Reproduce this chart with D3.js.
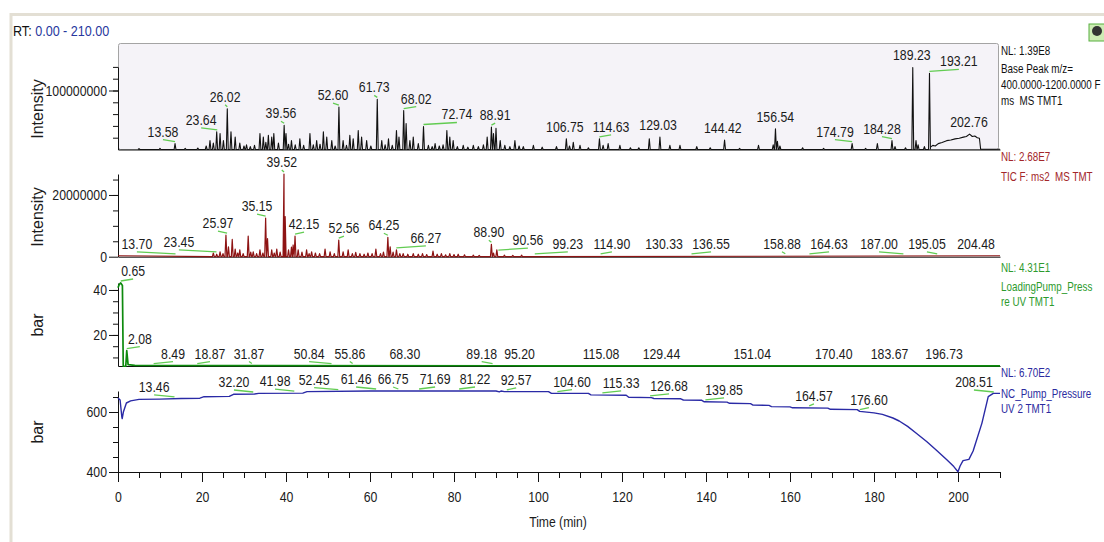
<!DOCTYPE html>
<html>
<head>
<meta charset="utf-8">
<script src="https://cdn.jsdelivr.net/npm/d3@7"></script>
<style>
  body { margin: 0; background: #fff; }
  svg { display: block; font-family: "Liberation Sans", Arial, sans-serif; }
  text { white-space: pre; }
</style>
</head>
<body>
<div id="chart"></div>
<script>
// retention time window (min)
const rtRange = [0, 210];

// base peak trace: [time, intensity x1e6]
const bpPeaks = [
  [5, 1.5], [10, 2], [13.58, 10], [16, 2], [19, 2.5], [21, 6], [21.9, 15], [22.7, 11], [23.5, 30], [24.3, 27],
  [25.1, 15], [26.02, 69], [26.9, 30], [27.9, 21], [29, 11], [30, 6], [30.6, 8], [31.5, 5], [32.5, 7], [33.8, 27],
  [34.6, 21], [35.2, 12], [35.8, 24], [36.6, 21], [37.1, 27], [38.2, 11], [39.56, 41], [40, 27], [40.6, 9], [41.3, 15],
  [42.2, 8], [43.3, 18], [44.2, 7], [45.7, 27], [46.5, 8], [47.3, 15], [48.1, 9], [48.9, 30], [49.7, 21], [50.9, 15],
  [51.7, 6], [52.6, 72], [53.6, 15], [54.4, 7], [55.2, 24], [56, 18], [57.2, 32], [58, 21], [59.2, 15], [60.2, 6],
  [61.73, 85], [62.8, 15], [63.6, 8], [64.4, 18], [65.3, 7], [66.3, 32], [66.9, 21], [68.02, 66], [68.6, 44], [69.5, 15],
  [70.3, 21], [71.5, 10], [72.74, 39], [73.9, 7], [74.8, 5], [75.5, 10], [76.5, 6], [77.4, 8], [78.3, 32], [79, 21],
  [79.8, 15], [80.8, 5], [82.2, 7], [83.3, 4], [84.6, 7], [85.8, 5], [87, 8], [87.9, 21], [88.91, 38], [89.4, 27],
  [90, 36], [91, 15], [92.1, 7], [93.3, 5], [94.5, 15], [95.5, 6], [96.5, 5], [98.9, 7], [101, 4], [104.4, 5],
  [106.75, 18], [107.5, 6], [108.4, 12], [110, 7], [112, 3], [114.63, 18], [115.5, 7], [116.7, 10], [119.5, 7], [122, 3],
  [124, 3], [126.5, 18], [129.03, 21], [131.4, 7], [133.8, 7], [137.8, 5], [141, 3], [144.42, 16], [148, 2], [152.5, 7],
  [156, 8], [156.54, 35], [157, 14], [157.6, 6], [163, 3], [168, 2], [174.79, 10], [178, 2], [180.8, 10], [184.28, 15],
  [185, 5], [187.5, 3], [189.23, 139], [190, 15], [190.5, 8], [192, 5], [193.21, 129]
];
const bpHump = [
  [193.45, 4], [194, 7], [194.6, 6], [195.3, 10], [196.2, 12], [197.3, 15], [198.3, 16], [199.3, 18], [200.3, 19],
  [201.3, 21], [202, 22], [202.76, 26], [203.4, 22], [204, 23], [204.6, 20], [205.1, 19], [205.4, 0.3], [210, 0.3]
];
// [peak time, value x1e6, label centre time]
const bpLabels = [
  [13.58, 10, 10.7], [23.64, 30, 19.8], [26.02, 69, 25.5], [39.56, 41, 38.8], [52.60, 72, 51.2], [61.73, 85, 61.0],
  [68.02, 66, 71.0], [72.74, 39, 80.7], [88.91, 38, 89.8], [106.75, 18, 106.4], [114.63, 18, 117.4], [129.03, 21, 128.6],
  [144.42, 16, 144.0], [156.54, 35, 156.5], [174.79, 10, 170.7], [184.28, 15, 181.9], [189.23, 139, 189.0],
  [193.21, 129, 200.2], [202.76, 26, 202.6]
];

// TIC ms2 trace: [time, intensity x1e6]
const ticPeaks = [
  [22.7, 1.2], [23.5, 0.8], [24.3, 1.6], [25, 1], [25.7, 7], [26.3, 3.2], [27.2, 5.6], [27.9, 2.5], [28.5, 1.2], [29, 2.2],
  [29.8, 1], [31, 6.7], [31.6, 1.5], [32.2, 1.6], [33, 1], [33.8, 2.2], [34.5, 1.2], [35.15, 12.5], [35.6, 5.9], [36.6, 2.2],
  [37.2, 1.2], [37.8, 2.5], [38.6, 1.5], [39.52, 26.8], [39.8, 13], [40.6, 2.2], [41.3, 3.1], [41.7, 3.8], [42.15, 6.7], [42.9, 2.2],
  [43.8, 1.5], [44.9, 2.2], [45.5, 1], [46.1, 1.6], [47, 1.2], [48, 1], [49.3, 2.5], [50.5, 1.6], [51.5, 1], [52.56, 5.4],
  [53.6, 1.6], [54.8, 2.2], [55.8, 1], [56.6, 1.4], [57.6, 1], [58.6, 0.8], [59.5, 1.2], [60.5, 1], [61.4, 2.5], [62.5, 1],
  [63.2, 1.5], [64.25, 6.3], [64.8, 3.2], [65.5, 1.5], [66.3, 2.2], [67.1, 1], [67.9, 1], [69, 0.8], [70.3, 1], [71.5, 0.8],
  [72.5, 1], [73.5, 0.7], [75, 1.8], [76, 0.8], [77, 1], [78, 0.6], [79, 1], [80, 0.7], [81, 0.8], [82.5, 0.6],
  [84.6, 0.5], [86, 0.4], [88.9, 4], [89.4, 1.2], [90.2, 2.2], [92, 0.5], [94, 0.4], [96.1, 0.5]
];
const ticLabels = [
  [13.70, 0.3, 4.5], [23.45, 0.9, 14.5], [25.97, 7, 23.8], [35.15, 12.5, 33.1], [39.52, 26.8, 39.0], [42.15, 6.7, 44.3],
  [52.56, 5.4, 53.8], [64.25, 6.3, 63.3], [66.27, 2.2, 73.3], [88.90, 4, 88.3], [90.56, 1.5, 97.6], [99.23, 0.3, 107.1],
  [114.90, 0.3, 117.6], [130.33, 0.3, 130.0], [136.55, 0.3, 141.2], [158.88, 0.3, 158.1], [164.63, 0.3, 169.3],
  [187.00, 0.3, 181.2], [195.05, 0.3, 192.6], [204.48, 0.3, 204.3]
];

// loading pump pressure: [time, bar]
const lpTrace = [
  [0, 41], [0.3, 42.5], [0.65, 43.1], [1.05, 42], [1.25, 6.1], [1.85, 6.1], [2.08, 13], [2.4, 6.8], [4, 6.5],
  [30, 6.4], [100, 6.3], [210, 6.3]
];
const lpLabels = [
  [0.65, 43.1, 3.6], [2.08, 13, 5.2], [8.49, 6.4, 13.1], [18.87, 6.4, 21.9], [31.87, 6.4, 31.2], [50.84, 6.4, 45.5],
  [55.86, 6.4, 55.2], [68.30, 6.4, 68.3], [89.18, 6.4, 86.6], [95.20, 6.4, 95.6], [115.08, 6.3, 115.0], [129.44, 6.3, 129.4],
  [151.04, 6.3, 151.0], [170.40, 6.3, 170.4], [183.67, 6.3, 183.7], [196.73, 6.3, 196.7]
];

// NC pump pressure: [time, bar]
const ncTrace = [
  [0, 647], [0.5, 640], [0.9, 585], [1.0, 578], [1.3, 601], [2, 630], [3, 637], [5, 642], [10, 643], [15, 645],
  [19.5, 646], [20.5, 651], [26.5, 652], [27.5, 659], [32.5, 660], [33.5, 662], [44, 663], [45, 668], [60, 670], [90, 670],
  [90.8, 667], [91.2, 670], [92, 668], [102.5, 668], [103.2, 662], [112, 662], [112.6, 657], [121, 656], [121.6, 649],
  [127, 648], [127.6, 645], [134, 644], [134.6, 640], [139, 639], [139.6, 634], [145, 633], [145.6, 629], [150.6, 628],
  [151.2, 623], [155, 622], [155.6, 618], [160, 617], [160.6, 614], [169, 613], [169.6, 609], [176, 608], [176.6, 602],
  [180, 597], [182, 592], [184.5, 580], [186, 570], [188, 552], [190, 530], [192.6, 501], [195, 471], [197.4, 440],
  [199, 418], [200, 401], [200.5, 420], [201.2, 438], [202.6, 442], [203.6, 470], [205.7, 563], [207.2, 651],
  [208.4, 662], [210, 662]
];
const ncLabels = [
  [13.46, 644, 8.6], [32.20, 660, 27.6], [41.98, 663, 37.4], [52.45, 668, 46.7], [61.46, 670, 56.7], [66.75, 670, 65.5],
  [71.69, 670, 75.5], [81.22, 670, 85.0], [92.57, 667, 94.8], [104.60, 661, 108.1], [115.33, 657, 119.8],
  [126.68, 647, 131.2], [139.85, 634, 144.3], [164.57, 614, 165.7], [176.60, 601, 178.8], [208.51, 660, 203.8]
];

const sideNotes = [
  ["NL: 1.39E8", "Base Peak m/z=", "400.0000-1200.0000 F", "ms  MS TMT1"],
  ["NL: 2.68E7", "TIC F: ms2  MS TMT"],
  ["NL: 4.31E1", "LoadingPump_Press", "re UV TMT1"],
  ["NL: 6.70E2", "NC_Pump_Pressure", "UV 2 TMT1"]
];
const timeTicks = [0, 20, 40, 60, 80, 100, 120, 140, 160, 180, 200];

const W = 1104, H = 542, left = 118;
const svg = d3.select("#chart").append("svg").attr("width", W).attr("height", H);

const x = d3.scaleLinear().domain(rtRange).range([left, 1000]);

const yBP = d3.scaleLinear().domain([0, 1.4e8]).range([149.5, 66.9]);
const yTIC = d3.scaleLinear().domain([0, 2.68e7]).range([256.7, 174]);
const yLP = d3.scaleLinear().domain([6.2, 43.1]).range([366, 283]);
const yNC = d3.scaleLinear().domain([400, 670]).range([472, 391]);

function label(g, px, py, s, o = {}) {
  return g.append("text")
    .attr("transform", `translate(${px},${py}) scale(${o.sx ?? 0.82},1)`)
    .attr("text-anchor", o.anchor || "middle")
    .attr("font-size", o.size || 15)
    .attr("fill", o.fill || "#1b1b1b")
    .attr("dy", o.dy || 0)
    .text(s);
}

function squeeze(g) {
  g.attr("font-family", null).attr("font-size", 15).attr("color", "#111");
  g.selectAll("text").each(function () {
    const t = d3.select(this);
    const tx = +t.attr("x") || 0, ty = +t.attr("y") || 0;
    t.attr("x", 0).attr("y", 0)
      .attr("transform", `translate(${tx},${ty}) scale(0.82,1)`)
      .attr("fill", "#1b1b1b");
  });
}

// outer frame
svg.append("path").attr("d", `M11,${H}V14.5H${W}`)
  .attr("fill", "none").attr("stroke", "#e3dfd4").attr("stroke-width", 3);
svg.append("rect").attr("x", 1089).attr("y", 24).attr("width", 16).attr("height", 17)
  .attr("fill", "#cdebb4").attr("stroke", "#58b040");
svg.append("circle").attr("cx", 1097).attr("cy", 31).attr("r", 5).attr("fill", "#333");

const rt = svg.append("text").attr("transform", "translate(13,31) scale(0.9,1)")
  .attr("font-size", 14).attr("dy", "0.35em");
rt.append("tspan").attr("fill", "#111").text("RT: ");
rt.append("tspan").attr("fill", "#27379e").text(`${rtRange[0].toFixed(2)} - ${rtRange[1].toFixed(2)}`);

// panel 1 box
svg.append("rect").attr("x", left + 0.5).attr("y", 43.5).attr("width", 880).attr("height", 106)
  .attr("rx", 2).attr("fill", "#f5f3f8").attr("stroke", "#a4a4a4");

function yAxis(y, minor, major, fmt) {
  svg.append("g").attr("transform", `translate(${left},0)`)
    .call(d3.axisLeft(y).tickValues(minor).tickSize(5).tickSizeOuter(0).tickFormat(""))
    .attr("color", "#111");
  const g = svg.append("g").attr("transform", `translate(${left},0)`)
    .call(d3.axisLeft(y).tickValues(major).tickSize(9).tickSizeOuter(0).tickPadding(2).tickFormat(fmt));
  g.select(".domain").remove();
  squeeze(g);
}

function baseLine(y) {
  svg.append("g").attr("transform", `translate(0,${y.range()[0]})`)
    .call(d3.axisBottom(x).tickValues([]).tickSizeOuter(0)).attr("color", "#111");
}

yAxis(yBP, [2e7, 4e7, 6e7, 8e7, 1e8, 1.2e8, 1.4e8], [1e8], d3.format("d"));
yAxis(yTIC, [5e6, 1e7, 1.5e7, 2e7, 2.5e7], [0, 2e7], d3.format("d"));
yAxis(yLP, [10, 15, 20, 25, 30, 35, 40], [20, 40], d3.format("d"));
yAxis(yNC, [450, 500, 550, 600, 650], [400, 600], d3.format("d"));
baseLine(yBP); baseLine(yTIC); baseLine(yLP);

// time axis
svg.append("g").attr("transform", `translate(0,${yNC.range()[0]})`)
  .call(d3.axisBottom(x).tickValues(d3.range(0, 211, 5)).tickSize(6).tickSizeOuter(0).tickFormat(""))
  .attr("color", "#111");
const tAx = svg.append("g").attr("transform", `translate(0,${yNC.range()[0]})`)
  .call(d3.axisBottom(x).tickValues(timeTicks).tickSize(10).tickSizeOuter(0).tickPadding(9));
tAx.select(".domain").remove();
squeeze(tAx);

label(svg, 558, 522, "Time (min)", { size: 14, sx: 0.87, dy: "0.35em" });

[["Intensity", 109], ["Intensity", 217], ["bar", 325], ["bar", 432]].forEach(([s, cy]) => {
  svg.append("text").attr("transform", `translate(37,${cy}) rotate(-90)`)
    .attr("text-anchor", "middle").attr("dy", "0.35em")
    .attr("font-size", 16).attr("fill", "#1b1b1b").text(s);
});

// traces
const spikes = (peaks, k) => peaks.flatMap(([t, v]) => [[t - 0.22, 0], [t, v * k], [t + 0.22, 0]]);

function trace(data, y, color, w) {
  svg.append("path").datum(data)
    .attr("d", d3.line().x(d => x(d[0])).y(d => y(d[1])))
    .attr("fill", "none").attr("stroke", color).attr("stroke-width", w)
    .attr("stroke-linejoin", "round");
}

trace(spikes(bpPeaks, 1e6), yBP, "#111", 1.1);
trace(bpHump.map(([t, v]) => [t, v * 1e6]), yBP, "#111", 1.1);
trace([[0, 0.3e6], ...spikes(ticPeaks, 1e6), [210, 0.3e6]].sort((a, b) => a[0] - b[0]), yTIC, "#8e1414", 1.2);
trace(lpTrace, yLP, "#0d8a0d", 1.7);
trace(ncTrace, yNC, "#2a2aa6", 1.4);

// peak labels with connectors
function peakLabels(labels, y, k) {
  labels.forEach(([t, v, lx]) => {
    const yv = y(v * k), x0 = x(t), x1 = x(lx);
    if (Math.abs(x1 - x0) > 2) {
      svg.append("line").attr("x1", x0).attr("y1", yv - 2).attr("x2", x1).attr("y2", yv - 4)
        .attr("stroke", "#62cc52").attr("stroke-width", 1.3);
    }
    label(svg, x1, yv - 7, t.toFixed(2));
  });
}
peakLabels(bpLabels, yBP, 1e6);
peakLabels(ticLabels, yTIC, 1e6);
peakLabels(lpLabels, yLP, 1);
peakLabels(ncLabels, yNC, 1);

// side notes
const noteY = [[51, 69, 85, 101], [157, 177], [268, 287, 302], [373, 394, 409]];
const noteColor = ["#111", "#a3262a", "#2d9a2d", "#2b2ba0"];
sideNotes.forEach((rows, i) => {
  rows.forEach((s, j) => {
    label(svg, 1001, noteY[i][j], s, { anchor: "start", size: 12, sx: 0.82, fill: noteColor[i], dy: "0.35em" });
  });
});
</script>
</body>
</html>
